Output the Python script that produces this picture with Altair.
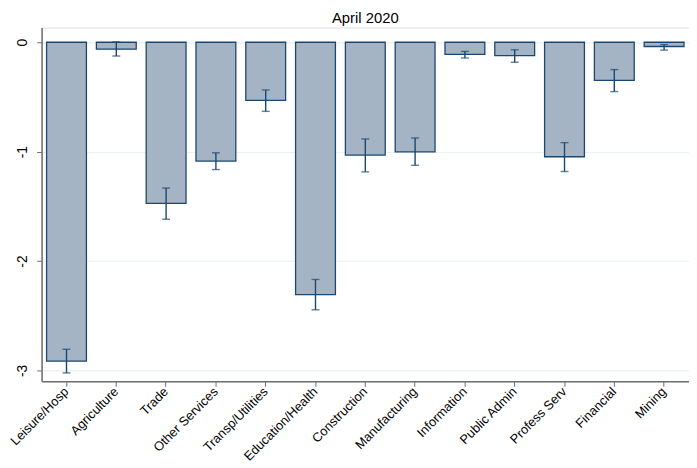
import altair as alt
import pandas as pd

categories = ["Leisure/Hosp", "Agriculture", "Trade", "Other Services", "Transp/Utilities",
              "Education/Health", "Construction", "Manufacturing", "Information",
              "Public Admin", "Profess Serv", "Financial", "Mining"]
values = [-2.915, -0.063, -1.474, -1.086, -0.532, -2.307, -1.032, -1.002, -0.111, -0.123, -1.047, -0.349, -0.039]
ci_high = [-2.807, 0.003, -1.333, -1.011, -0.436, -2.169, -0.884, -0.875, -0.084, -0.069, -0.918, -0.250, -0.021]
ci_low = [-3.023, -0.126, -1.618, -1.164, -0.632, -2.446, -1.185, -1.125, -0.144, -0.183, -1.182, -0.451, -0.072]
y_ticks = [0, -1, -2, -3]

df = pd.DataFrame({"cat": categories, "val": values, "hi": ci_high, "lo": ci_low})

FONT = "Liberation Sans"
NAVY = "#1a476f"

xenc = alt.X("cat:N", sort=categories, title=None,
             scale=alt.Scale(paddingInner=0.2, paddingOuter=0.1),
             axis=alt.Axis(labelAngle=-45, labelAlign="right", labelBaseline="middle",
                           labelPadding=3, labelFontSize=13, labelFont=FONT, labelColor="black",
                           domainColor="#6e6e6e", tickColor="#6e6e6e", tickSize=5,
                           domainWidth=1.5, grid=False))
yscale = alt.Scale(domain=[-3.1, 0.135], nice=False, zero=False)

bars = alt.Chart(df).mark_bar(color="#a5b4c5", stroke=NAVY, strokeWidth=1.3).encode(
    x=xenc,
    y=alt.Y("val:Q", scale=yscale, title=None,
            axis=alt.Axis(values=y_ticks, labelExpr="'' + datum.value", labelAngle=270,
                          labelAlign="center", labelBaseline="bottom", labelPadding=7,
                          labelFontSize=14, labelFont=FONT, labelColor="black",
                          domainColor="#6e6e6e", tickColor="#6e6e6e", tickSize=5,
                          domainWidth=1.5, grid=True, gridColor="#eaf2f3", gridWidth=1.2)),
    y2=alt.datum(0),
)

rules = alt.Chart(df).mark_rule(color=NAVY, strokeWidth=1.4).encode(
    x=alt.X("cat:N", sort=categories), y=alt.Y("lo:Q", scale=yscale), y2="hi:Q")
cap_lo = alt.Chart(df).mark_tick(color=NAVY, size=8, thickness=1.4, orient="horizontal").encode(
    x=alt.X("cat:N", sort=categories), y=alt.Y("lo:Q", scale=yscale))
cap_hi = alt.Chart(df).mark_tick(color=NAVY, size=8, thickness=1.4, orient="horizontal").encode(
    x=alt.X("cat:N", sort=categories), y=alt.Y("hi:Q", scale=yscale))

chart = alt.layer(bars, rules, cap_lo, cap_hi).properties(
    width=655, height=358,
    title=alt.TitleParams("April 2020", font=FONT, fontSize=15, fontWeight="normal",
                          color="black", anchor="middle", offset=2),
    autosize=alt.AutoSizeParams(type="none"),
    padding={"left": 34, "top": 17, "right": 0, "bottom": 85},
).configure_view(stroke=None).configure(background="white")

chart.save("out.html", embed_options={"renderer": "svg", "actions": False})
